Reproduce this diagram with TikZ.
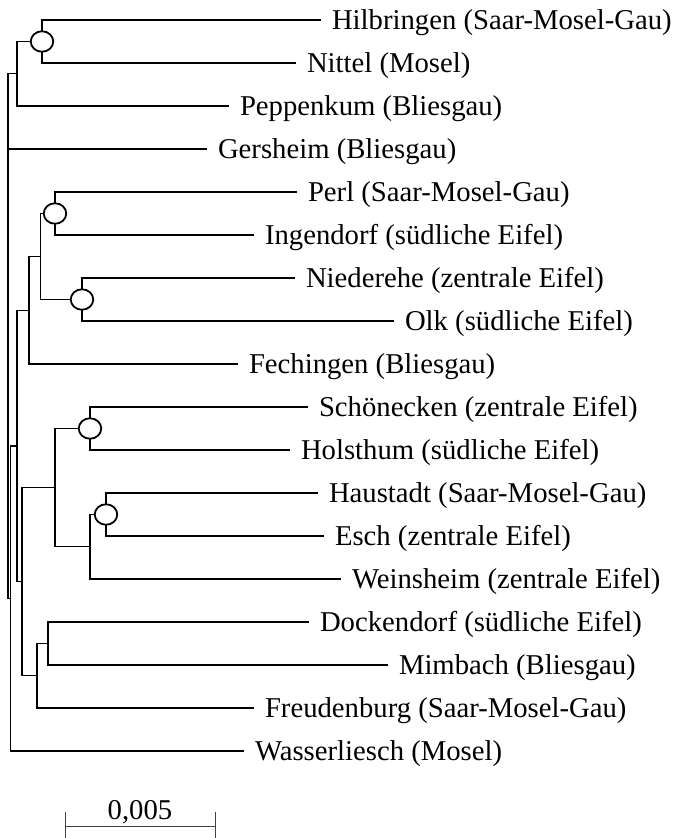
\documentclass[tikz,border=0pt]{standalone}
\usepackage{fontspec}
\setmainfont{Liberation Serif}
\usetikzlibrary{shapes.geometric}
\begin{document}
\begin{tikzpicture}[x=1pt,y=-1pt,
  branch/.style={line width=1.3pt,line cap=rect},
  leaf/.style={anchor=west,inner xsep=12pt,inner ysep=0pt,outer sep=0pt,
    text height=19pt,text depth=0pt,font=\fontsize{28.7}{34}\selectfont},
  bubble/.style={ellipse,draw,fill=white,line width=1.8pt,inner sep=0pt,
    minimum width=22.5pt,minimum height=20.5pt},
  scalebar/.style={line width=0.9pt,draw=black!75}]
\useasboundingbox (0,0) rectangle (677,838);

% internal nodes
\coordinate (r) at (8,335);
\coordinate (a) at (42,41.5);
\coordinate (b) at (17,73.75);
\coordinate (c) at (10.5,598.5);
\coordinate (d) at (17,446);
\coordinate (e) at (29,310.25);
\coordinate (g) at (40.7,256.5);
\coordinate (h) at (55,213.5);
\coordinate (i) at (82,299.5);
\coordinate (f) at (22,581.7);
\coordinate (j) at (55,487.6);
\coordinate (l) at (90,428.5);
\coordinate (m) at (90,546.75);
\coordinate (n) at (106,514.5);
\coordinate (k) at (37,675.75);
\coordinate (o) at (48,643.5);

% leaves
\node[leaf] (L1)  at (320,20)  {Hilbringen (Saar-Mosel-Gau)};
\node[leaf] (L2)  at (295,63)  {Nittel (Mosel)};
\node[leaf] (L3)  at (228,106) {Peppenkum (Bliesgau)};
\node[leaf] (L4)  at (206,149) {Gersheim (Bliesgau)};
\node[leaf] (L5)  at (296,192) {Perl (Saar-Mosel-Gau)};
\node[leaf] (L6)  at (253,235) {Ingendorf (südliche Eifel)};
\node[leaf] (L7)  at (294,278) {Niederehe (zentrale Eifel)};
\node[leaf] (L8)  at (393,321) {Olk (südliche Eifel)};
\node[leaf] (L9)  at (237,364) {Fechingen (Bliesgau)};
\node[leaf] (L10) at (307,407) {Schönecken (zentrale Eifel)};
\node[leaf] (L11) at (289,450) {Holsthum (südliche Eifel)};
\node[leaf] (L12) at (317,493) {Haustadt (Saar-Mosel-Gau)};
\node[leaf] (L13) at (323,536) {Esch (zentrale Eifel)};
\node[leaf] (L14) at (340,579) {Weinsheim (zentrale Eifel)};
\node[leaf] (L15) at (308,622) {Dockendorf (südliche Eifel)};
\node[leaf] (L16) at (387,665) {Mimbach (Bliesgau)};
\node[leaf] (L17) at (253,708) {Freudenburg (Saar-Mosel-Gau)};
\node[leaf] (L18) at (243,751) {Wasserliesch (Mosel)};

% branches
\draw[branch] (r) |- (b);
\draw[branch] (r) |- (L4.west);
\draw[branch] (r) |- (c);
\draw[branch] (b) |- (a);
\draw[branch] (b) |- (L3.west);
\draw[branch] (a) |- (L1.west);
\draw[branch] (a) |- (L2.west);
\draw[branch] (c) |- (d);
\draw[branch] (c) |- (L18.west);
\draw[branch] (d) |- (e);
\draw[branch] (d) |- (f);
\draw[branch] (e) |- (g);
\draw[branch] (e) |- (L9.west);
\draw[branch] (g) |- (h);
\draw[branch] (g) |- (i);
\draw[branch] (h) |- (L5.west);
\draw[branch] (h) |- (L6.west);
\draw[branch] (i) |- (L7.west);
\draw[branch] (i) |- (L8.west);
\draw[branch] (f) |- (j);
\draw[branch] (f) |- (k);
\draw[branch] (j) |- (l);
\draw[branch] (j) |- (m);
\draw[branch] (l) |- (L10.west);
\draw[branch] (l) |- (L11.west);
\draw[branch] (m) |- (n);
\draw[branch] (m) |- (L14.west);
\draw[branch] (n) |- (L12.west);
\draw[branch] (n) |- (L13.west);
\draw[branch] (k) |- (o);
\draw[branch] (k) |- (L17.west);
\draw[branch] (o) |- (L15.west);
\draw[branch] (o) |- (L16.west);

% node markers
\node[bubble] (Ba) at (a) {};
\node[bubble] (Bh) at (h) {};
\node[bubble] (Bi) at (i) {};
\node[bubble] (Bl) at (l) {};
\node[bubble] (Bn) at (n) {};

% scale bar
\coordinate (s1) at (65,826);
\coordinate (s2) at (215,826);
\draw[scalebar] (s1) -- (s2);
\draw[scalebar] ([yshift=14pt]s1) -- ([yshift=-12pt]s1);
\draw[scalebar] ([yshift=14pt]s2) -- ([yshift=-12pt]s2);
\node[anchor=base,inner sep=0pt,font=\fontsize{28.7}{34}\selectfont] (sl) at (140,819) {0,005};
\end{tikzpicture}
\end{document}
